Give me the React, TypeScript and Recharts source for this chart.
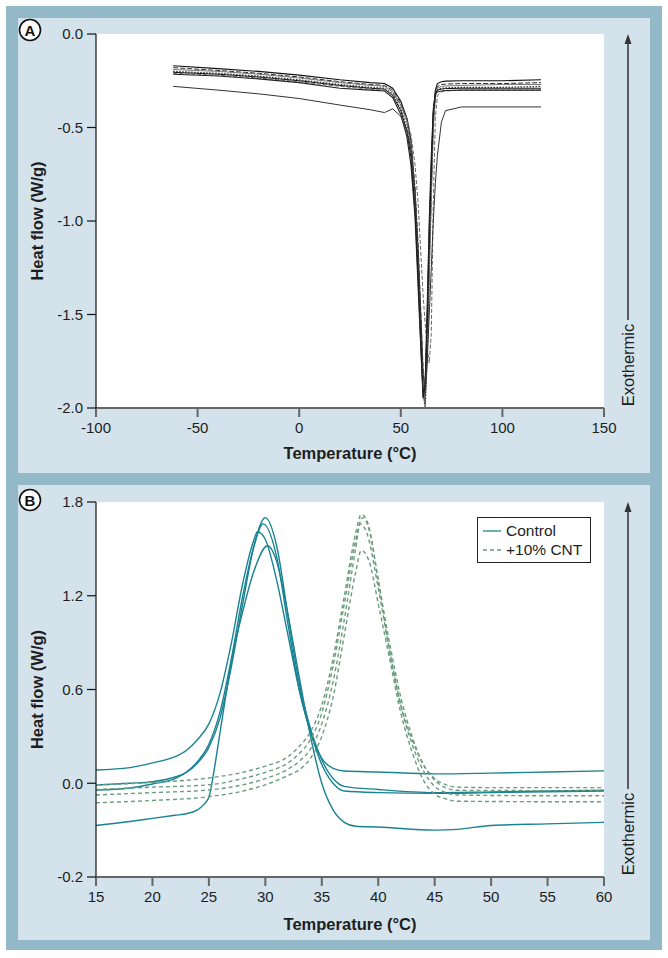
import { LineChart, Line, XAxis, YAxis, CartesianGrid, Legend } from "recharts";

const FONT = '"Liberation Sans", Arial, Helvetica, sans-serif';
const FRAME_DARK = "#93b8c8";
const FRAME_LIGHT = "#d3e2eb";
const TEAL = "#1a8392";
const CNT_GREEN = "#6a9c7e";
const INK = "#1e1e1e";

// ---- Panel A: DSC scans, temperature (°C) vs heat flow (W/g)
const tempA = [-62, -40, -20, 0, 20, 35, 42, 46, 50, 53, 55, 57, 58.5, 60, 61, 62, 63, 64, 65, 66, 67, 68, 70, 72, 80, 100, 119];
const runA1 = [-0.17, -0.185, -0.2, -0.22, -0.245, -0.26, -0.265, -0.29, -0.36, -0.45, -0.57, -0.85, -1.2, -1.62, -1.9, -1.96, -1.55, -1.1, -0.75, -0.42, -0.3, -0.265, -0.255, -0.252, -0.25, -0.25, -0.245];
const runA2 = [-0.18, -0.195, -0.21, -0.23, -0.255, -0.27, -0.275, -0.3, -0.37, -0.46, -0.58, -0.82, -1.12, -1.52, -1.8, -1.92, -1.7, -1.25, -0.85, -0.48, -0.32, -0.28, -0.27, -0.268, -0.265, -0.265, -0.26];
const runA3 = [-0.19, -0.2, -0.215, -0.235, -0.26, -0.275, -0.28, -0.31, -0.38, -0.47, -0.6, -0.86, -1.18, -1.58, -1.86, -1.98, -1.75, -1.3, -0.9, -0.5, -0.34, -0.29, -0.28, -0.278, -0.275, -0.27, -0.27];
const runA4 = [-0.2, -0.21, -0.225, -0.245, -0.27, -0.285, -0.29, -0.32, -0.4, -0.5, -0.62, -0.9, -1.25, -1.66, -1.92, -2.0, -1.72, -1.2, -0.8, -0.45, -0.33, -0.3, -0.29, -0.288, -0.285, -0.285, -0.28];
const runA5 = [-0.205, -0.215, -0.23, -0.25, -0.275, -0.29, -0.295, -0.33, -0.41, -0.52, -0.66, -0.95, -1.3, -1.7, -1.94, -1.85, -1.5, -1.05, -0.7, -0.42, -0.32, -0.3, -0.295, -0.292, -0.29, -0.29, -0.29];
const runA6 = [-0.21, -0.22, -0.235, -0.255, -0.28, -0.295, -0.3, -0.32, -0.38, -0.45, -0.54, -0.7, -0.9, -1.2, -1.4, -1.55, -1.68, -1.76, -1.6, -0.9, -0.45, -0.33, -0.31, -0.305, -0.3, -0.3, -0.3];
const runA7 = [-0.215, -0.225, -0.24, -0.26, -0.29, -0.3, -0.305, -0.34, -0.43, -0.55, -0.7, -0.98, -1.35, -1.72, -1.95, -1.88, -1.45, -1.0, -0.65, -0.4, -0.32, -0.31, -0.305, -0.302, -0.3, -0.3, -0.3];
const runA8 = [-0.28, -0.3, -0.32, -0.345, -0.38, -0.405, -0.42, -0.4, -0.44, -0.52, -0.62, -0.85, -1.15, -1.55, -1.82, -1.9, -1.75, -1.5, -1.25, -1.0, -0.8, -0.65, -0.47, -0.41, -0.39, -0.39, -0.39];

const tempTicksA = [-100, -50, 0, 50, 100, 150];
const heatTicksA = [-2, -1.5, -1, -0.5, 0];

// ---- Panel B: control vs +10% CNT
const controlT1 = [15, 18, 20, 22, 23, 24, 25, 26, 27, 28, 29, 29.3, 30, 31, 32, 33, 34, 35, 36, 37, 40, 45, 50, 55, 60];
const control1 = [0.085, 0.1, 0.13, 0.17, 0.21, 0.28, 0.38, 0.58, 0.9, 1.28, 1.56, 1.61, 1.56, 1.3, 0.95, 0.6, 0.33, 0.16, 0.095, 0.078, 0.072, 0.06, 0.065, 0.072, 0.079];
const controlT2 = [15, 18, 20, 22, 23, 24, 25, 26, 27, 28, 29, 30, 31, 32, 33, 34, 35, 36, 37, 40, 45, 50, 55, 60];
const control2 = [-0.011, 0.0, 0.01, 0.04, 0.07, 0.13, 0.23, 0.42, 0.75, 1.15, 1.52, 1.7, 1.52, 1.08, 0.64, 0.35, 0.15, 0.03, -0.02, -0.04, -0.06, -0.055, -0.05, -0.045];
const controlT3 = [15, 18, 20, 22, 23, 24, 25, 26, 27, 28, 29, 29.8, 31, 32, 33, 34, 35, 36, 37, 40, 45, 50, 55, 60];
const control3 = [-0.043, -0.03, -0.005, 0.03, 0.07, 0.14, 0.25, 0.46, 0.8, 1.2, 1.52, 1.66, 1.45, 1.02, 0.6, 0.33, 0.12, 0.0, -0.05, -0.06, -0.065, -0.06, -0.055, -0.05];
const controlT4 = [15, 18, 20, 22, 23, 24, 24.5, 25, 25.5, 26, 26.5, 27, 28, 29, 30.2, 31, 32, 33, 34, 35, 36, 37, 38, 40, 45, 47, 50, 55, 60];
const control4 = [-0.27, -0.245, -0.225, -0.205, -0.195, -0.17, -0.14, -0.09, 0.1, 0.33, 0.56, 0.78, 1.1, 1.36, 1.52, 1.42, 1.08, 0.68, 0.3, 0.0, -0.17, -0.25, -0.275, -0.28, -0.3, -0.295, -0.27, -0.26, -0.25];

const cntT1 = [15, 20, 25, 28, 30, 32, 33, 34, 35, 36, 37, 38, 38.5, 39, 40, 41, 42, 43, 44, 45, 46, 47, 50, 55, 60];
const cnt1 = [-0.01, 0.005, 0.034, 0.07, 0.11, 0.17, 0.235, 0.33, 0.5, 0.8, 1.2, 1.6, 1.72, 1.68, 1.3, 0.85, 0.5, 0.28, 0.12, 0.03, -0.01, -0.025, -0.028, -0.028, -0.028];
const cntT2 = [15, 20, 25, 28, 30, 32, 33, 34, 35, 36, 37, 38, 38.6, 39.2, 40, 41, 42, 43, 44, 45, 46, 47, 55, 60];
const cnt2 = [-0.04, -0.025, -0.01, 0.03, 0.07, 0.13, 0.19, 0.28, 0.45, 0.75, 1.15, 1.55, 1.7, 1.62, 1.3, 0.9, 0.55, 0.3, 0.12, 0.02, -0.03, -0.045, -0.047, -0.047];
const cntT3 = [15, 20, 25, 28, 30, 32, 33, 34, 35, 36, 37, 38, 38.4, 39, 40, 41, 42, 43, 44, 45, 46, 47, 55, 60];
const cnt3 = [-0.075, -0.06, -0.043, -0.01, 0.03, 0.09, 0.14, 0.22, 0.38, 0.65, 1.05, 1.5, 1.66, 1.6, 1.25, 0.85, 0.5, 0.25, 0.08, -0.02, -0.06, -0.075, -0.08, -0.08];
const cntT4 = [15, 20, 25, 28, 30, 32, 33, 34, 35, 36, 37, 38, 38.5, 39.2, 40, 41, 42, 43, 44, 45, 46, 47, 55, 60];
const cnt4 = [-0.125, -0.11, -0.086, -0.05, -0.01, 0.05, 0.086, 0.16, 0.3, 0.55, 0.95, 1.35, 1.49, 1.42, 1.15, 0.8, 0.45, 0.2, 0.02, -0.07, -0.1, -0.115, -0.118, -0.118];

const tempTicksB = [15, 20, 25, 30, 35, 40, 45, 50, 55, 60];
// the printed axis spaces its bottom label like a 0.6 step, so it sits at -0.6 and reads "-0.2"
const heatTicksB = [-0.6, 0, 0.6, 1.2, 1.8];
const heatLabelsB = ["-0.2", "0.0", "0.6", "1.2", "1.8"];
const legendOrder = ["Control", "+10% CNT"];

const rowsA = tempA.map((t, i) => ({
  t,
  a1: runA1[i],
  a2: runA2[i],
  a3: runA3[i],
  a4: runA4[i],
  a5: runA5[i],
  a6: runA6[i],
  a7: runA7[i],
  a8: runA8[i],
}));

const toPoints = (ts: number[], vs: number[]) => ts.map((t, i) => ({ t, v: vs[i] }));

const seriesA = [
  { key: "a1", color: "#111111", dash: undefined, width: 1.1 },
  { key: "a2", color: "#2a2a2a", dash: "5 2", width: 1 },
  { key: "a3", color: "#7a7a7a", dash: undefined, width: 1 },
  { key: "a4", color: "#333333", dash: "1.5 1.5", width: 1.2 },
  { key: "a5", color: "#111111", dash: undefined, width: 1 },
  { key: "a6", color: "#666666", dash: "4 2", width: 1 },
  { key: "a7", color: "#222222", dash: undefined, width: 1.1 },
  { key: "a8", color: "#333333", dash: undefined, width: 1 },
];

const seriesB = [
  { name: "Control", data: toPoints(controlT1, control1), color: TEAL, dash: undefined },
  { name: "Control", data: toPoints(controlT2, control2), color: TEAL, dash: undefined },
  { name: "Control", data: toPoints(controlT3, control3), color: TEAL, dash: undefined },
  { name: "Control", data: toPoints(controlT4, control4), color: TEAL, dash: undefined },
  { name: "+10% CNT", data: toPoints(cntT1, cnt1), color: CNT_GREEN, dash: "4 3" },
  { name: "+10% CNT", data: toPoints(cntT2, cnt2), color: CNT_GREEN, dash: "4 3" },
  { name: "+10% CNT", data: toPoints(cntT3, cnt3), color: CNT_GREEN, dash: "4 3" },
  { name: "+10% CNT", data: toPoints(cntT4, cnt4), color: CNT_GREEN, dash: "4 3" },
];

const tickStyle = { fill: INK, fontSize: 15 };
const titleStyle = { fill: INK, fontSize: 16.5, fontWeight: 700 };

function LegendBox({ payload }: { payload?: any[] }) {
  const items = (payload ?? [])
    .filter((p) => p.type !== "none")
    .sort((a, b) => legendOrder.indexOf(a.value) - legendOrder.indexOf(b.value));
  return (
    <div
      style={{
        background: "#fff",
        border: "1px solid #222",
        padding: "3px 8px 3px 5px",
        fontSize: 15.5,
        lineHeight: "19px",
        color: INK,
        fontFamily: FONT,
      }}
    >
      {items.map((p, i) => (
        <div key={i} style={{ display: "flex", alignItems: "center" }}>
          <svg width={18} height={10} style={{ marginRight: 5 }}>
            <line
              x1={0}
              y1={5}
              x2={18}
              y2={5}
              stroke={p.color}
              strokeWidth={1.3}
              strokeDasharray={p.payload?.strokeDasharray}
            />
          </svg>
          <span>{p.value}</span>
        </div>
      ))}
    </div>
  );
}

function Exothermic({ top, bottom }: { top: number; bottom: number }) {
  const x = 628;
  const textMid = bottom - 43;
  return (
    <g>
      <polygon points={`${x},${top} ${x - 3.5},${top + 10} ${x + 3.5},${top + 10}`} fill="#333" />
      <line x1={x} y1={top + 8} x2={x} y2={bottom - 88} stroke="#3a3a3a" strokeWidth={1.6} />
      <text
        x={x}
        y={textMid}
        transform={`rotate(-90 ${x} ${textMid})`}
        textAnchor="middle"
        dominantBaseline="central"
        fontSize={16.5}
        fill={INK}
      >
        Exothermic
      </text>
    </g>
  );
}

function PanelTag({ x, y, letter }: { x: number; y: number; letter: string }) {
  return (
    <g>
      <circle cx={x} cy={y} r={10.5} fill="#fff" stroke="#111" strokeWidth={1.6} />
      <text x={x} y={y + 0.5} textAnchor="middle" dominantBaseline="central" fontSize={15} fontWeight={700} fill="#111">
        {letter}
      </text>
    </g>
  );
}

export default function App() {
  return (
    <div style={{ position: "absolute", left: 0, top: 0, width: 668, height: 958, background: "#fff", fontFamily: FONT }}>
      <div style={{ position: "absolute", left: 6, top: 6, width: 656, height: 944, background: FRAME_DARK }} />

      {/* Panel A */}
      <div style={{ position: "absolute", left: 18, top: 18, width: 632, height: 455, background: FRAME_LIGHT }}>
        <LineChart width={632} height={455} data={rowsA} margin={{ top: 16, right: 46, bottom: 0, left: 0 }}>
          <CartesianGrid stroke="none" fill="#ffffff" />
          <XAxis
            type="number"
            dataKey="t"
            domain={[-100, 150]}
            ticks={tempTicksA}
            height={65}
            tick={tickStyle}
            tickSize={9}
            tickMargin={5}
            axisLine={{ stroke: "#666", strokeWidth: 2 }}
            tickLine={{ stroke: "#666", strokeWidth: 2 }}
            label={{ value: "Temperature (°C)", position: "insideBottom", offset: 14, style: titleStyle }}
          />
          <YAxis
            type="number"
            domain={[-2, 0]}
            ticks={heatTicksA}
            width={78}
            tick={tickStyle}
            tickSize={9}
            tickMargin={4}
            tickFormatter={(v: number) => v.toFixed(1)}
            axisLine={{ stroke: "#111", strokeWidth: 1.2 }}
            tickLine={{ stroke: "#111", strokeWidth: 1.2 }}
            label={{ value: "Heat flow (W/g)", angle: -90, position: "insideLeft", offset: 19, style: { ...titleStyle, textAnchor: "middle" } }}
          />
          {seriesA.map((s) => (
            <Line
              key={s.key}
              type="linear"
              dataKey={s.key}
              stroke={s.color}
              strokeWidth={s.width}
              strokeDasharray={s.dash}
              dot={false}
              isAnimationActive={false}
            />
          ))}
        </LineChart>
      </div>

      {/* Panel B */}
      <div style={{ position: "absolute", left: 18, top: 485, width: 632, height: 455, background: FRAME_LIGHT }}>
        <LineChart width={632} height={455} margin={{ top: 17, right: 46, bottom: 0, left: 0 }}>
          <CartesianGrid stroke="none" fill="#ffffff" />
          <XAxis
            type="number"
            dataKey="t"
            domain={[15, 60]}
            ticks={tempTicksB}
            height={63}
            tick={tickStyle}
            tickSize={9}
            tickMargin={5}
            allowDuplicatedCategory={false}
            axisLine={{ stroke: "#666", strokeWidth: 2 }}
            tickLine={{ stroke: "#666", strokeWidth: 2 }}
            label={{ value: "Temperature (°C)", position: "insideBottom", offset: 10, style: titleStyle }}
          />
          <YAxis
            type="number"
            domain={[-0.6, 1.8]}
            ticks={heatTicksB}
            width={78}
            tick={tickStyle}
            tickSize={9}
            tickMargin={4}
            tickFormatter={(v: number, i: number) => heatLabelsB[i] ?? v.toFixed(1)}
            axisLine={{ stroke: "#111", strokeWidth: 1.2 }}
            tickLine={{ stroke: "#111", strokeWidth: 1.2 }}
            label={{ value: "Heat flow (W/g)", angle: -90, position: "insideLeft", offset: 19, style: { ...titleStyle, textAnchor: "middle" } }}
          />
          <Legend
            layout="horizontal"
            verticalAlign="middle"
            align="center"
            wrapperStyle={{ left: 459, top: 32, width: "auto", height: "auto" }}
            content={<LegendBox />}
          />
          {seriesB.map((s, i) => (
            <Line
              key={i}
              data={s.data}
              type="monotone"
              dataKey="v"
              name={s.name}
              stroke={s.color}
              strokeWidth={1.4}
              strokeDasharray={s.dash}
              legendType={i === 0 || i === 4 ? "line" : "none"}
              dot={false}
              isAnimationActive={false}
            />
          ))}
        </LineChart>
      </div>

      <svg width={668} height={958} style={{ position: "absolute", left: 0, top: 0, pointerEvents: "none" }} fontFamily={FONT}>
        <PanelTag x={30} y={30} letter="A" />
        <PanelTag x={30} y={500} letter="B" />
        <Exothermic top={34} bottom={408} />
        <Exothermic top={502} bottom={877} />
      </svg>
    </div>
  );
}
